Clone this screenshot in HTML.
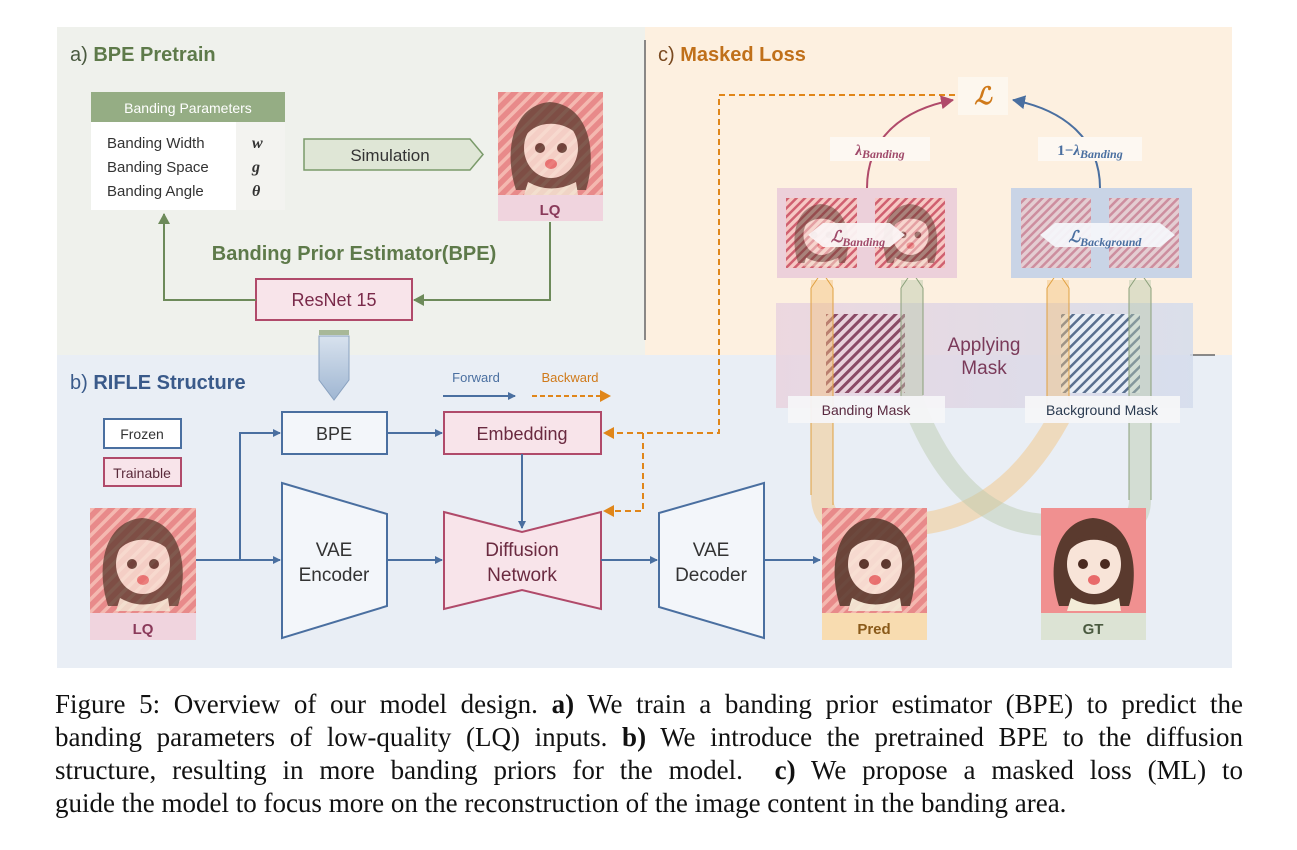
<!DOCTYPE html>
<html><head><meta charset="utf-8"><style>
body{margin:0;background:#fff;width:1297px;height:850px;overflow:hidden;position:relative}
svg{display:block}
.cap{position:absolute;left:55px;top:688px;width:1188px;font-family:"Liberation Serif",serif;font-size:27px;line-height:33px;color:#111}
.cap div{text-align:justify;text-align-last:justify;white-space:nowrap}
.cap div.l{text-align-last:left}
</style></head><body>
<svg width="1297" height="680" viewBox="0 0 1297 680" font-family="Liberation Sans, sans-serif">
<defs>
<pattern id="st" width="9" height="9" patternUnits="userSpaceOnUse" patternTransform="rotate(-45)"><rect width="9" height="9" fill="#e88a8a"/><rect width="9" height="3.5" fill="#f4b8b0"/></pattern>
<pattern id="pm" width="7" height="7" patternUnits="userSpaceOnUse" patternTransform="rotate(-45)"><rect width="7" height="7" fill="#e8d2dc"/><rect width="7" height="3" fill="#8a4a66"/></pattern>
<pattern id="bm" width="7" height="7" patternUnits="userSpaceOnUse" patternTransform="rotate(-45)"><rect width="7" height="7" fill="#e8eef6"/><rect width="7" height="2.5" fill="#5a7090"/></pattern>
<pattern id="ms" width="6" height="6" patternUnits="userSpaceOnUse" patternTransform="rotate(-45)"><rect width="6" height="6" fill="#f6c8c4"/><rect width="6" height="2.5" fill="#d06070"/></pattern>
<linearGradient id="am" x1="0" x2="1"><stop offset="0" stop-color="#e9d3df"/><stop offset="1" stop-color="#d4dcec"/></linearGradient>
<linearGradient id="da" x1="0" y1="0" x2="0" y2="1"><stop offset="0" stop-color="#d8e2ee"/><stop offset="1" stop-color="#9fb6d2"/></linearGradient>
<marker id="ab" markerWidth="8" markerHeight="8" refX="7" refY="4" orient="auto" markerUnits="userSpaceOnUse"><path d="M0,0L8,4L0,8z" fill="#4a6fa0"/></marker>
<marker id="ag" markerWidth="12" markerHeight="12" refX="10" refY="6" orient="auto" markerUnits="userSpaceOnUse"><path d="M0,0L11,6L0,12z" fill="#6d8a5a"/></marker>
<marker id="ao" markerWidth="12" markerHeight="12" refX="10" refY="6" orient="auto" markerUnits="userSpaceOnUse"><path d="M0,0L11,6L0,12z" fill="#e0861a"/></marker>
<marker id="ap" markerWidth="14" markerHeight="14" refX="12" refY="7" orient="auto" markerUnits="userSpaceOnUse"><path d="M0,0L13,7L0,14z" fill="#b04a6a"/></marker>
<marker id="aB" markerWidth="14" markerHeight="14" refX="12" refY="7" orient="auto" markerUnits="userSpaceOnUse"><path d="M0,0L13,7L0,14z" fill="#4a6fa0"/></marker>
<g id="face"><path d="M18,100 C5,60 15,15 52,12 C90,15 100,60 88,100 Z" fill="#5a3a2e"/><ellipse cx="53" cy="58" rx="27" ry="30" fill="#f8e4d8"/><path d="M28,45 C35,22 70,22 80,45 C65,30 40,30 28,45Z" fill="#5a3a2e"/><circle cx="42" cy="58" r="5" fill="#4a2a20"/><circle cx="64" cy="58" r="5" fill="#4a2a20"/><ellipse cx="53" cy="74" rx="6" ry="5" fill="#e86a6a"/><path d="M30,92 Q53,105 78,92 L80,105 L26,105Z" fill="#f3ecd8"/></g>
</defs>
<rect x="57" y="27" width="588" height="328" fill="#eff1ec"/>
<rect x="645" y="27" width="587" height="328" fill="#fdf0e0"/>
<rect x="57" y="355" width="1175" height="313" fill="#e9eef5"/>
<line x1="645" y1="40" x2="645" y2="340" stroke="#666" stroke-width="1.5"/>
<line x1="1190" y1="355" x2="1215" y2="355" stroke="#666" stroke-width="1.5"/>
<text x="70" y="61" font-size="20" fill="#5e7a4a"><tspan fill="#4a5a40">a) </tspan><tspan font-weight="bold">BPE Pretrain</tspan></text>
<text x="658" y="61" font-size="20" fill="#c0701a"><tspan fill="#7a4a20">c) </tspan><tspan font-weight="bold">Masked Loss</tspan></text>
<text x="70" y="389" font-size="20" fill="#3a5a8a"><tspan>b) </tspan><tspan font-weight="bold">RIFLE Structure</tspan></text>
<rect x="91" y="92" width="194" height="118" fill="#fff"/>
<rect x="236" y="122" width="49" height="88" fill="#f3f3f0"/>
<rect x="91" y="92" width="194" height="30" fill="#95ad84"/>
<text x="188" y="113" font-size="14" fill="#fff" text-anchor="middle">Banding Parameters</text>
<g font-size="15" fill="#333"><text x="107" y="148">Banding Width</text><text x="107" y="172">Banding Space</text><text x="107" y="196">Banding Angle</text></g>
<g font-size="16" fill="#333" font-family="Liberation Serif,serif" font-style="italic" font-weight="bold"><text x="252" y="148">w</text><text x="252" y="172">g</text><text x="252" y="196">θ</text></g>
<path d="M304,139H470L483,154.5L470,170H304Z" fill="#dfe6d6" stroke="#7a9a6a" stroke-width="1.5"/>
<text x="390" y="161" font-size="17" fill="#333" text-anchor="middle">Simulation</text>
<rect x="498" y="92" width="105" height="103" fill="url(#st)"/><use href="#face" x="498" y="90"/><rect x="498" y="92" width="105" height="103" fill="url(#st)" opacity="0.25"/>
<rect x="498" y="195" width="105" height="26" fill="#f0d4de"/>
<text x="550" y="215" font-size="15" font-weight="bold" fill="#8a3a5a" text-anchor="middle">LQ</text>
<text x="354" y="260" font-size="20" font-weight="bold" fill="#5e7a4a" text-anchor="middle">Banding Prior Estimator(BPE)</text>
<rect x="256" y="279" width="156" height="41" fill="#f8e4ea" stroke="#b04a6a" stroke-width="2"/>
<text x="334" y="306" font-size="18" fill="#7a2a4a" text-anchor="middle">ResNet 15</text>
<path d="M550,222V300H414" fill="none" stroke="#6d8a5a" stroke-width="2" marker-end="url(#ag)"/>
<path d="M256,300H164V214" fill="none" stroke="#6d8a5a" stroke-width="2" marker-end="url(#ag)"/>
<rect x="319" y="330" width="30" height="5" fill="#a8b898"/>
<path d="M319,336H349V380L334,400L319,380Z" fill="url(#da)" stroke="#8aa2c0"/>
<text x="476" y="382" font-size="13" fill="#4a6fa0" text-anchor="middle">Forward</text>
<line x1="443" y1="396" x2="515" y2="396" stroke="#4a6fa0" stroke-width="2" marker-end="url(#ab)"/>
<text x="570" y="382" font-size="13" fill="#d07a1a" text-anchor="middle">Backward</text>
<line x1="532" y1="396" x2="610" y2="396" stroke="#e0861a" stroke-width="2" stroke-dasharray="5,3" marker-end="url(#ao)"/>
<rect x="104" y="419" width="77" height="29" fill="#fff" stroke="#4a6fa0" stroke-width="2"/>
<text x="142" y="439" font-size="14" fill="#333" text-anchor="middle">Frozen</text>
<rect x="104" y="458" width="77" height="28" fill="#f8e4ea" stroke="#b04a6a" stroke-width="2"/>
<text x="142" y="478" font-size="14" fill="#5a2a3a" text-anchor="middle">Trainable</text>
<rect x="282" y="412" width="105" height="42" fill="#f3f6fa" stroke="#4a6fa0" stroke-width="2"/>
<text x="334" y="440" font-size="18" fill="#333" text-anchor="middle">BPE</text>
<rect x="444" y="412" width="157" height="42" fill="#f8e4ea" stroke="#b04a6a" stroke-width="2"/>
<text x="522" y="440" font-size="18" fill="#6a2a40" text-anchor="middle">Embedding</text>
<path d="M282,483L387,514V606L282,638Z" fill="#f3f6fa" stroke="#4a6fa0" stroke-width="2"/>
<text x="334" y="556" font-size="19" fill="#333" text-anchor="middle">VAE</text><text x="334" y="581" font-size="19" fill="#333" text-anchor="middle">Encoder</text>
<path d="M444,512L522,532L601,512V609L522,590L444,609Z" fill="#f8e4ea" stroke="#b04a6a" stroke-width="2"/>
<text x="522" y="556" font-size="19" fill="#6a2a40" text-anchor="middle">Diffusion</text><text x="522" y="581" font-size="19" fill="#6a2a40" text-anchor="middle">Network</text>
<path d="M659,513L764,483V638L659,607Z" fill="#f3f6fa" stroke="#4a6fa0" stroke-width="2"/>
<text x="711" y="556" font-size="19" fill="#333" text-anchor="middle">VAE</text><text x="711" y="581" font-size="19" fill="#333" text-anchor="middle">Decoder</text>
<rect x="90" y="508" width="106" height="105" fill="url(#st)"/><use href="#face" x="90" y="506"/><rect x="90" y="508" width="106" height="105" fill="url(#st)" opacity="0.25"/>
<rect x="90" y="613" width="106" height="27" fill="#f0d4de"/>
<text x="143" y="634" font-size="15" font-weight="bold" fill="#8a3a5a" text-anchor="middle">LQ</text>
<g fill="none" stroke="#4a6fa0" stroke-width="2">
<path d="M196,560H280" marker-end="url(#ab)"/>
<path d="M240,560V433H280" marker-end="url(#ab)"/>
<path d="M387,433H442" marker-end="url(#ab)"/>
<path d="M387,560H442" marker-end="url(#ab)"/>
<path d="M522,454V528" marker-end="url(#ab)"/>
<path d="M601,560H657" marker-end="url(#ab)"/>
<path d="M764,560H820" marker-end="url(#ab)"/>
</g>
<g fill="none" stroke="#e0861a" stroke-width="2" stroke-dasharray="6,4">
<path d="M955,95H719V433H604" marker-end="url(#ao)"/>
<path d="M643,433V511H604" marker-end="url(#ao)"/>
</g>
<rect x="776" y="303" width="417" height="105" fill="url(#am)" opacity="0.85"/>
<text x="984" y="351" font-size="19" fill="#7a3a5a" text-anchor="middle">Applying</text>
<text x="984" y="374" font-size="19" fill="#7a3a5a" text-anchor="middle">Mask</text>
<rect x="826" y="314" width="79" height="79" fill="url(#pm)"/>
<rect x="1061" y="314" width="79" height="79" fill="url(#bm)"/>
<g fill="none" stroke-width="22" stroke-opacity="0.45">
<path d="M822,280V495Q822,525 852,525H900Q1000,525 1058,420V280" stroke="#f5c07a"/>
<path d="M912,280V400Q960,525 1050,525H1115Q1140,525 1140,500V280" stroke="#b8c8aa"/>
</g>
<g fill="none" stroke-width="1">
<path d="M811,288V495M833,288V505" stroke="#e0a040"/>
<path d="M901,288V400M923,288V395" stroke="#8aa07a"/>
<path d="M1047,288V410M1069,288V420" stroke="#e0a040"/>
<path d="M1129,288V500M1151,288V500" stroke="#8aa07a"/>
</g>
<path d="M811,288L822,272L833,288" fill="none" stroke="#e0a040"/>
<path d="M901,288L912,272L923,288" fill="none" stroke="#8aa07a"/>
<path d="M1047,288L1058,272L1069,288" fill="none" stroke="#e0a040"/>
<path d="M1129,288L1140,272L1151,288" fill="none" stroke="#8aa07a"/>
<rect x="788" y="396" width="157" height="27" fill="#f6f6f8" opacity="0.95"/>
<text x="866" y="415" font-size="14" fill="#5a2a40" text-anchor="middle">Banding Mask</text>
<rect x="1025" y="396" width="155" height="27" fill="#f6f6f8" opacity="0.95"/>
<text x="1102" y="415" font-size="14" fill="#2a3a50" text-anchor="middle">Background Mask</text>
<rect x="777" y="188" width="180" height="90" fill="#ecd0da"/>
<rect x="1011" y="188" width="181" height="90" fill="#c9d4e6"/>
<rect x="786" y="198" width="71" height="70" fill="url(#ms)"/>
<use href="#face" transform="translate(786,196) scale(0.67)" opacity="0.7"/>
<rect x="875" y="198" width="70" height="70" fill="url(#ms)"/>
<use href="#face" transform="translate(875,196) scale(0.67)" opacity="0.7"/>
<rect x="786" y="198" width="71" height="70" fill="url(#ms)" opacity="0.3"/>
<rect x="875" y="198" width="70" height="70" fill="url(#ms)" opacity="0.3"/>
<rect x="1021" y="198" width="70" height="70" fill="url(#ms)" opacity="0.6"/>
<rect x="1109" y="198" width="70" height="70" fill="url(#ms)" opacity="0.6"/>
<path d="M808,235L823,223H890L905,235L890,247H823Z" fill="#fbf4f4" opacity="0.95"/>
<text x="858" y="242" font-size="16" font-family="Liberation Serif,serif" font-style="italic" font-weight="bold" fill="#a04a6a" text-anchor="middle">ℒ<tspan font-size="12" dy="4">Banding</tspan></text>
<path d="M1040,235L1055,223H1160L1175,235L1160,247H1055Z" fill="#f4f6fa" opacity="0.95"/>
<text x="1105" y="242" font-size="16" font-family="Liberation Serif,serif" font-style="italic" font-weight="bold" fill="#4a6fa0" text-anchor="middle">ℒ<tspan font-size="12" dy="4">Background</tspan></text>
<path d="M867,188C867,140 900,110 953,100" fill="none" stroke="#b04a6a" stroke-width="2" marker-end="url(#ap)"/>
<path d="M1100,188C1100,140 1065,110 1013,100" fill="none" stroke="#4a6fa0" stroke-width="2" marker-end="url(#aB)"/>
<rect x="830" y="137" width="100" height="24" fill="#fdf8f2"/>
<text x="880" y="155" font-size="15" font-family="Liberation Serif,serif" font-style="italic" font-weight="bold" fill="#a04a6a" text-anchor="middle">λ<tspan font-size="12" dy="3">Banding</tspan></text>
<rect x="1038" y="137" width="104" height="24" fill="#fdf8f2"/>
<text x="1090" y="155" font-size="15" font-family="Liberation Serif,serif" font-weight="bold" fill="#4a6fa0" text-anchor="middle">1−<tspan font-style="italic">λ</tspan><tspan font-size="12" dy="3" font-style="italic">Banding</tspan></text>
<rect x="958" y="77" width="50" height="38" fill="#fdf7ee"/>
<text x="983" y="104" font-size="24" font-family="Liberation Serif,serif" font-style="italic" font-weight="bold" fill="#d07a1a" text-anchor="middle">ℒ</text>
<rect x="822" y="508" width="105" height="105" fill="url(#st)"/><use href="#face" x="822" y="506"/><rect x="822" y="508" width="105" height="105" fill="url(#st)" opacity="0.12"/>
<rect x="822" y="613" width="105" height="27" fill="#f8dcb0"/>
<text x="874" y="634" font-size="15" font-weight="bold" fill="#8a5a1a" text-anchor="middle">Pred</text>
<rect x="1041" y="508" width="105" height="105" fill="#f09090"/><use href="#face" x="1041" y="506"/>
<rect x="1041" y="613" width="105" height="27" fill="#dce3d4"/>
<text x="1093" y="634" font-size="15" font-weight="bold" fill="#4a5a40" text-anchor="middle">GT</text>
</svg>
<div class="cap">
<div>Figure 5: Overview of our model design. <b>a)</b> We train a banding prior estimator (BPE) to predict the</div>
<div>banding parameters of low-quality (LQ) inputs. <b>b)</b> We introduce the pretrained BPE to the diffusion</div>
<div>structure, resulting in more banding priors for the model. &nbsp;<b>c)</b> We propose a masked loss (ML) to</div>
<div class="l">guide the model to focus more on the reconstruction of the image content in the banding area.</div>
</div>
</body></html>
